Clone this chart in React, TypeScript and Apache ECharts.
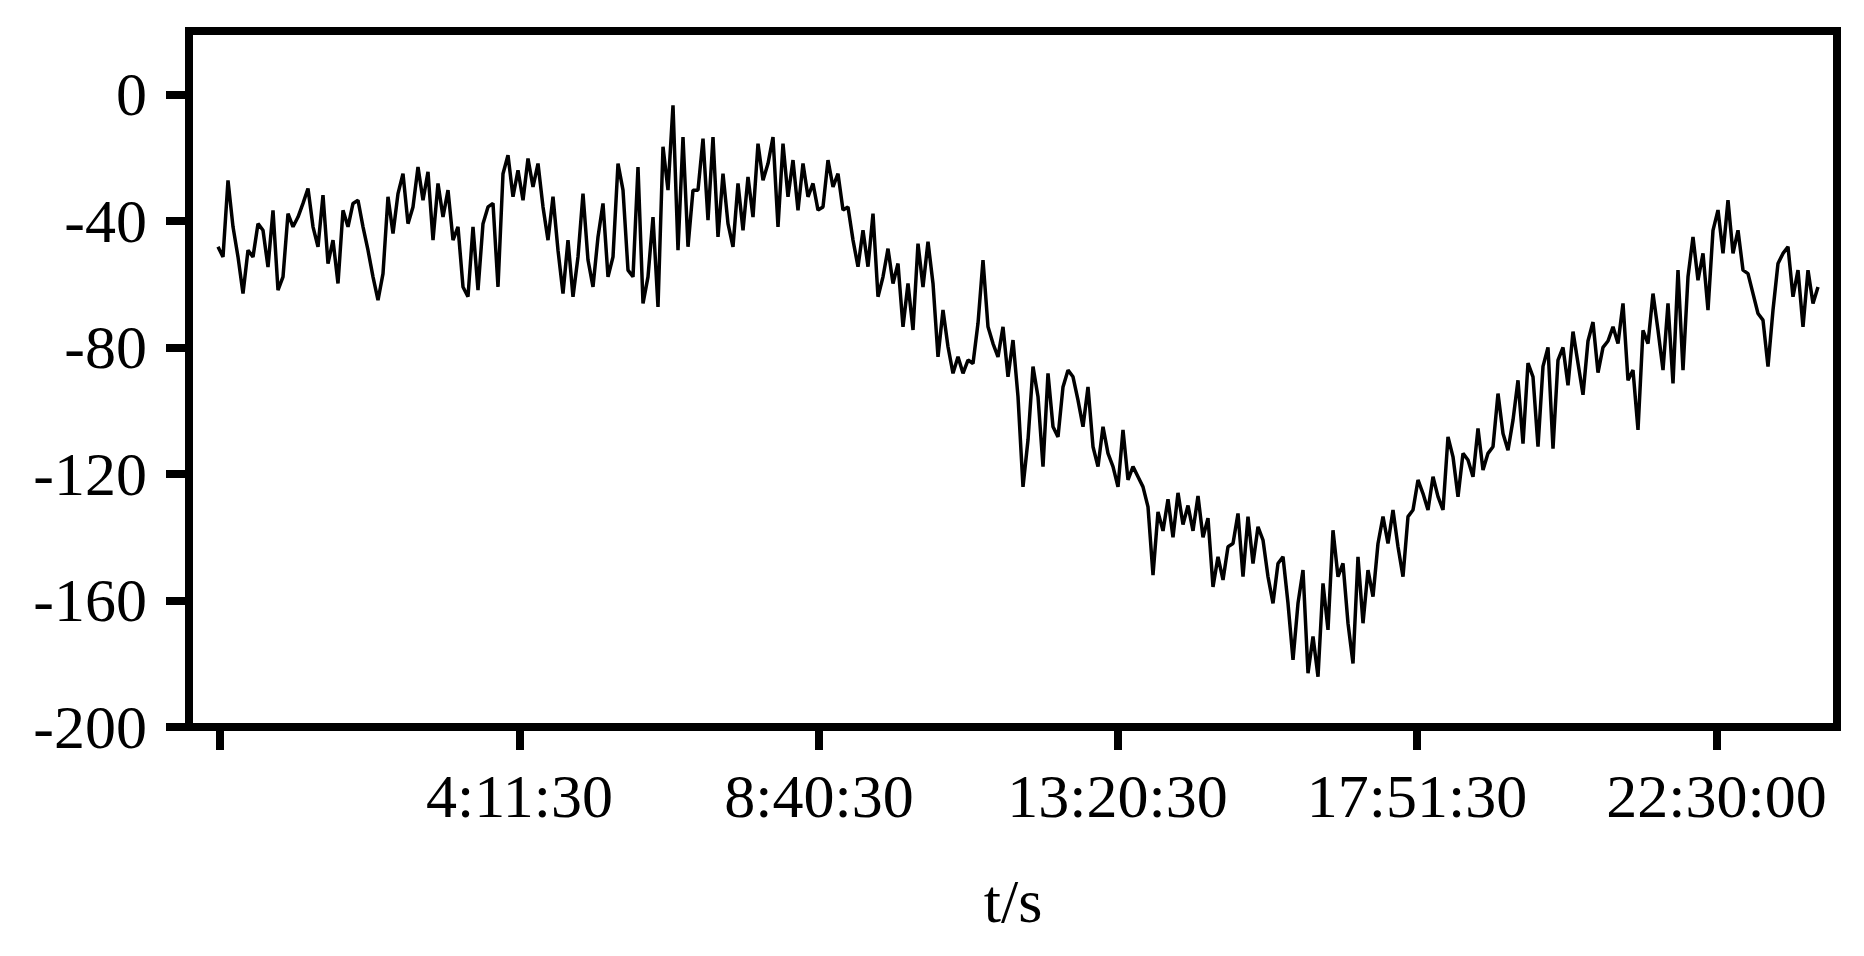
import React, { useEffect, useRef } from "react";
import * as echarts from "echarts";

// sample values (index-based x)
const seg1 = [-48.2, -51.4, -27.2, -41.9, -51.4, -63.0, -49.3, -51.4, -40.9, -43.0, -54.6, -36.7, -61.9, -57.7, -37.7, -41.9, -38.8, -34.5, -29.8, -41.9, -48.2, -31.9, -53.5, -46.1, -59.8, -36.7, -41.9, -34.5, -33.5, -41.9, -49.3, -57.7, -65.1, -56.7, -32.4, -44.0, -31.4, -25.1, -40.9];
const seg2 = [-35.6, -23.0, -33.5, -24.5, -46.1, -28.2, -38.8, -30.3, -46.1, -41.9, -60.9, -64.0, -41.9, -61.9, -40.9, -35.6, -34.5, -60.9, -25.1, -19.3, -32.4, -24.0, -33.5, -20.3, -29.3, -21.9, -35.6, -46.1, -32.4, -49.3, -63.0, -46.1, -64.0, -51.4, -31.4, -52.4, -60.9, -45.1, -34.5, -57.7];
const seg3 = [-51.4, -21.9, -30.3, -55.6, -57.7, -23.0, -66.1, -57.7, -38.8, -67.2, -16.6, -30.3, -3.5, -49.3, -13.5, -48.2, -30.3, -30.3, -14.0, -39.8, -13.5, -45.1, -25.1, -40.9, -48.2, -28.2, -43.0, -26.1, -38.8, -15.6, -27.2, -21.9, -13.5, -41.9, -15.6, -32.4, -20.8, -36.7, -21.9, -32.4];
const seg4 = [-28.2, -36.6, -35.6, -20.8, -29.3, -25.1, -36.6, -35.6, -46.1, -54.5, -43.0, -54.5, -37.7, -64.0, -57.7, -48.8, -59.8, -53.5, -73.5, -59.8, -74.5, -47.2, -60.9, -46.6, -59.8, -83.0, -68.2, -79.8, -88.2, -83.0, -88.2, -84.0, -85.1, -72.4, -52.4, -73.5, -78.8, -83.0, -73.5, -89.3];
const seg5 = [-77.7, -95.6, -124.1, -109.3, -86.1, -95.6, -117.7, -88.2, -105.1, -108.3, -92.5, -87.2, -89.3, -96.7, -105.1, -92.5, -111.4, -117.7, -105.1, -113.5, -117.7, -124.1, -106.1, -121.9, -117.7, -120.9, -124.1, -130.4, -152, -132, -138, -128, -140, -126, -136, -130, -138, -127, -140, -134];
const seg6 = [-155.7, -146.2, -153.5, -143.0, -142.0, -132.5, -152.5, -133.5, -148.3, -136.7, -140.9, -152.5, -160.9, -148.3, -146.2, -160.9, -178.8, -160.9, -150.4, -183.0, -171.4, -184.1, -154.6, -169.3, -137.8, -152.5, -148.3, -167.2, -179.9, -146.2, -167.2, -150.4, -158.8, -142.0, -133.5, -142.0, -131.4, -143.0, -152.5, -133.5];
const seg7 = [-131.4, -121.9, -126.2, -131.4, -120.9, -127.2, -131.4, -108.3, -114.6, -127.2, -113.5, -115.6, -120.9, -105.6, -118.8, -113.5, -111.4, -94.6, -107.2, -112.5, -103.0, -90.4, -110.4, -85.0, -89.3, -111.4, -86.0, -80.0, -112, -84, -80, -92, -75, -85, -95, -78, -72, -88, -80, -78];
const seg8 = [-73.5, -78.8, -66.1, -90.4, -87.2, -106.1, -74.6, -78.8, -63.0, -74.6, -87.2, -66.1, -91.4, -55.6, -87.2, -57.7, -45.1, -58.8, -50.3, -68.2, -43.0, -36.6, -50.3, -33.5, -50.3, -43.0, -55.6, -56.7, -63.0, -69.3, -71.4, -86.1, -68.2, -53.5, -50.3, -48.2, -64.0, -55.6, -73.5, -55.6, -66.1, -60.9];

const values = [...seg1, ...seg2, ...seg3, ...seg4, ...seg5, ...seg6, ...seg7, ...seg8];

// x tick positions (sample index) and their labels
const xTickIdx = [0.4, 60.3, 120.2, 179.9, 239.8, 299.7];
const xTickLabels = ["", "4:11:30", "8:40:30", "13:20:30", "17:51:30", "22:30:00"];
const yTicks = [-200, -160, -120, -80, -40, 0];

const FONT = "'Liberation Serif', 'Times New Roman', serif";

export default function App() {
  const ref = useRef<HTMLDivElement>(null);
  useEffect(() => {
    if (!ref.current) return;
    const chart = echarts.init(ref.current, undefined, { renderer: "svg" });
    const data = values.map((v, i) => [i, v]);
    chart.setOption({
      animation: false,
      backgroundColor: "#fff",
      grid: {
        left: 189,
        right: 27,
        top: 31,
        bottom: 229,
        show: true,
        borderColor: "#000",
        borderWidth: 8,
        containLabel: false,
      },
      xAxis: {
        type: "value",
        min: -5.8,
        max: 323.8,
        name: "t/s",
        nameLocation: "middle",
        nameGap: 143,
        nameTextStyle: { fontFamily: FONT, fontSize: 62, color: "#000" },
        axisLine: { show: true, onZero: false, lineStyle: { color: "#000", width: 8 } },
        axisTick: {
          show: true,
          customValues: xTickIdx,
          length: 23,
          lineStyle: { color: "#000", width: 8 },
        },
        axisLabel: {
          customValues: xTickIdx,
          margin: 38,
          fontFamily: FONT,
          fontSize: 62,
          color: "#000",
          formatter: (v: number) => {
            let best = 0;
            for (let k = 0; k < xTickIdx.length; k++) {
              if (Math.abs(xTickIdx[k] - v) < Math.abs(xTickIdx[best] - v)) best = k;
            }
            return xTickLabels[best];
          },
        },
        splitLine: { show: false },
      },
      yAxis: {
        type: "value",
        min: -200,
        max: 20,
        axisLine: { show: true, onZero: false, lineStyle: { color: "#000", width: 8 } },
        axisTick: {
          show: true,
          customValues: yTicks,
          length: 23,
          lineStyle: { color: "#000", width: 8 },
        },
        axisLabel: {
          customValues: yTicks,
          margin: 42,
          fontFamily: FONT,
          fontSize: 62,
          color: "#000",
        },
        splitLine: { show: false },
      },
      series: [
        {
          type: "line",
          data,
          showSymbol: false,
          lineStyle: { color: "#000", width: 3.5 },
          z: 1,
        },
      ],
    });
    return () => chart.dispose();
  }, []);
  return (
    <div
      ref={ref}
      style={{ position: "absolute", left: 0, top: 0, width: 1864, height: 956 }}
    />
  );
}
